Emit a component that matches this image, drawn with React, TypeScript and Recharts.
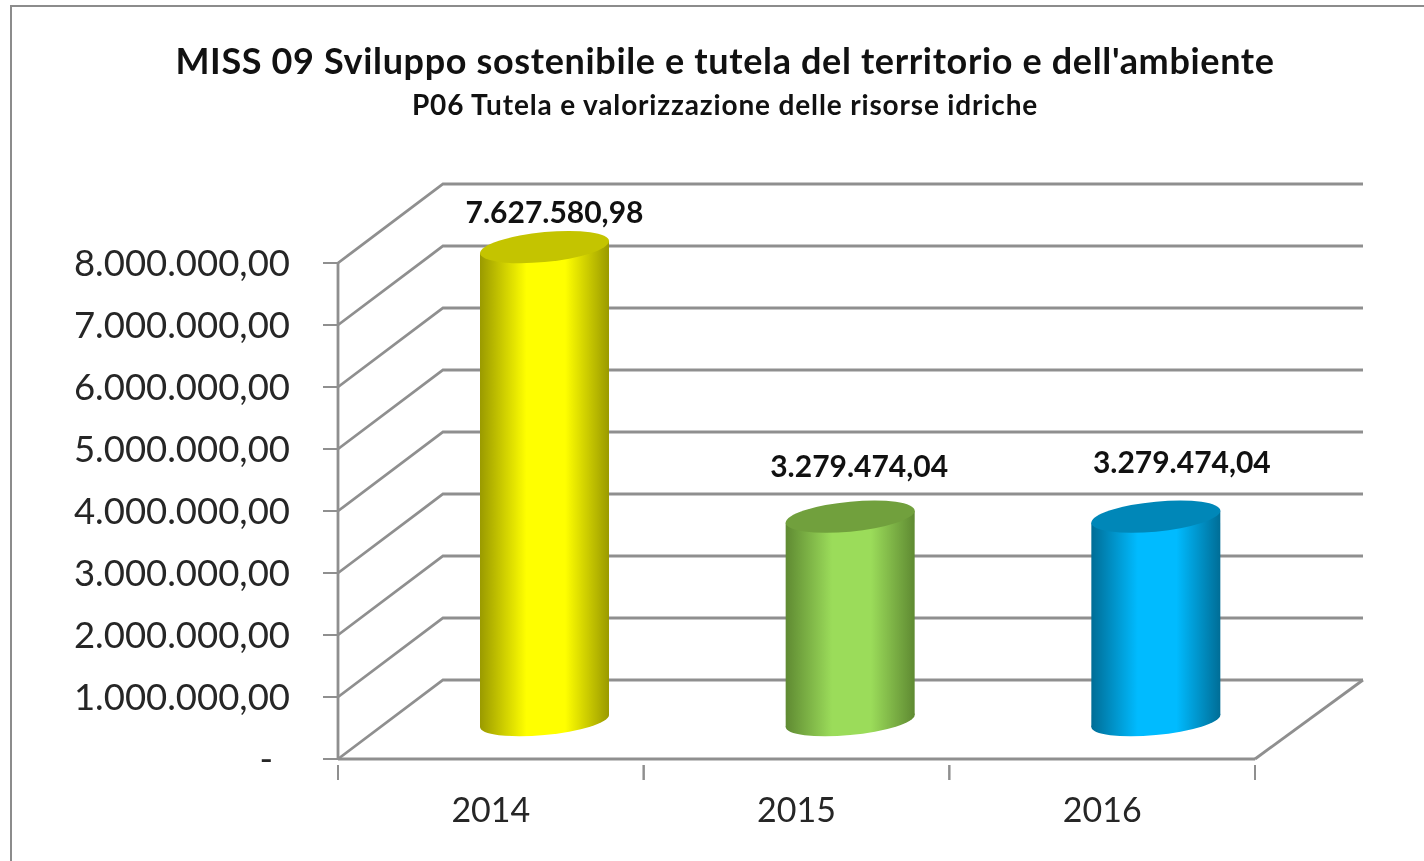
import React from 'react';
import { Bar, BarChart, CartesianGrid, LabelList, XAxis, YAxis } from 'recharts';

const years = ['2014', '2015', '2016'];
const amounts = [7627580.98, 3279474.04, 3279474.04];
const yTicks = [0, 1000000, 2000000, 3000000, 4000000, 5000000, 6000000, 7000000, 8000000];
const titleText = "MISS 09 Sviluppo sostenibile e tutela del territorio e dell'ambiente";
const subtitleText = 'P06 Tutela e valorizzazione delle risorse idriche';

const data = years.map((year, i) => ({ year, amount: amounts[i] }));

// colours for each cylinder: [body, cap, edge]
const barColors = [
  ['#ffff00', '#c4c400', '#9a9a00'],
  ['#9bdc5a', '#71a03d', '#5f8a32'],
  ['#00bbff', '#0087b8', '#006d96'],
];

const FONT = 'Lato, sans-serif';
const GRID = '#8f8f8f';

// fake 3D depth
const DEPTH_X = 105;
const DEPTH_Y = 79;
const PLOT_BOTTOM = 759;
const BAR_SHIFT_X = 54;
const BAR_SHIFT_Y = 39;

// hand placed data labels, relative to the cylinder top
const labelNudgeX = [10, 9, 26];
const labelNudgeY = [-34, -50, -54];

const formatAmount = (v: number) =>
  v.toLocaleString('it-IT', { minimumFractionDigits: 2, maximumFractionDigits: 2, useGrouping: 'always' } as any);

const WallLine = (props: any) => {
  const { x1, x2, y1 } = props;
  const backY = y1 - DEPTH_Y;
  return (
    <g fill="none" stroke={GRID} strokeWidth={2.8}>
      <polyline points={`${x1},${y1} ${x1 + DEPTH_X},${backY} ${x2 + DEPTH_X + 3},${backY}`} />
      {y1 === PLOT_BOTTOM && <line x1={x2} y1={y1} x2={x2 + DEPTH_X + 3} y2={backY} />}
    </g>
  );
};

const YearTick = ({ x, y, payload }: any) => {
  const half = payload.offset;
  return (
    <g>
      <line x1={x - half} y1={y - 2} x2={x - half} y2={y + 13} stroke={GRID} strokeWidth={2} />
      <line x1={x + half} y1={y - 2} x2={x + half} y2={y + 13} stroke={GRID} strokeWidth={2} />
      <text x={x} y={y + 55} textAnchor="middle" fontFamily={FONT} fontSize={34} fill="#262626">
        {payload.value}
      </text>
    </g>
  );
};

const AmountTick = ({ x, y, payload }: any) => (
  <g>
    <line x1={x - 7} y1={y} x2={x + 8} y2={y} stroke={GRID} strokeWidth={2} />
    <text
      x={payload.value === 0 ? x - 57 : x - 40}
      y={y + 13}
      textAnchor="end"
      fontFamily={FONT}
      fontSize={36.5}
      fill="#262626"
    >
      {payload.value === 0 ? '-' : formatAmount(payload.value)}
    </text>
  </g>
);

const Cylinder = ({ x, y, width, height, index }: any) => {
  const left = x + BAR_SHIFT_X;
  const right = left + width;
  const cx = left + width / 2;
  const top = y - BAR_SHIFT_Y;
  const bottom = y + height - 38;
  const rx = width / 2;
  const tilt = 6;
  const ry = 15;
  const fill = `url(#cyl${index})`;
  const [, cap] = barColors[index];
  return (
    <g>
      <circle r={1} transform={`matrix(${rx} ${-tilt} 0 ${ry - 1} ${cx} ${bottom})`} fill={fill} />
      <polygon
        points={`${left},${top + tilt} ${right},${top - tilt} ${right},${bottom - tilt} ${left},${bottom + tilt}`}
        fill={fill}
      />
      <circle r={1} transform={`matrix(${rx} ${-tilt} 0 ${ry} ${cx} ${top})`} fill={cap} />
    </g>
  );
};

const BarLabel = ({ x, y, width, value, index }: any) => (
  <text
    x={x + BAR_SHIFT_X + width / 2 + labelNudgeX[index]}
    y={y - BAR_SHIFT_Y + labelNudgeY[index] + 10}
    textAnchor="middle"
    fontFamily={FONT}
    fontWeight={700}
    fontSize={30}
    fill="#111"
  >
    {formatAmount(value)}
  </text>
);

export default function App() {
  return (
    <div style={{ position: 'absolute', left: 0, top: 0, width: 1424, height: 861, background: '#fff', overflow: 'hidden' }}>
      <div
        style={{
          position: 'absolute',
          left: 10,
          top: 5,
          right: 0,
          bottom: 0,
          borderTop: '2px solid #8c8c8c',
          borderLeft: '2px solid #8c8c8c',
        }}
      />
      <div style={{ position: 'absolute', left: 0, top: 0, filter: 'blur(0.5px)' }}>
        <BarChart
          width={1424}
          height={861}
          data={data}
          barSize={129}
          margin={{ top: 263, right: 169, bottom: 0, left: 0 }}
        >
          <defs>
            {barColors.map(([body, , edge], i) => (
              <linearGradient key={i} id={`cyl${i}`} x1="0" y1="0" x2="1" y2="0">
                <stop offset="0" stopColor={edge} />
                <stop offset="0.36" stopColor={body} />
                <stop offset="0.66" stopColor={body} />
                <stop offset="1" stopColor={edge} />
              </linearGradient>
            ))}
          </defs>
          <text
            x={725}
            y={74}
            textAnchor="middle"
            fontFamily={FONT}
            fontWeight={700}
            fontSize={36}
            letterSpacing={0.65}
            fill="#111"
          >
            {titleText}
          </text>
          <text
            x={725}
            y={115}
            textAnchor="middle"
            fontFamily={FONT}
            fontWeight={700}
            fontSize={28}
            letterSpacing={0.85}
            fill="#111"
          >
            {subtitleText}
          </text>
          <CartesianGrid vertical={false} horizontal={<WallLine />} />
          <XAxis
            dataKey="year"
            height={102}
            axisLine={{ stroke: GRID, strokeWidth: 2.8 }}
            tickLine={false}
            tick={<YearTick />}
          />
          <YAxis
            width={338}
            domain={[0, 8000000]}
            ticks={yTicks}
            interval={0}
            axisLine={{ stroke: GRID, strokeWidth: 2.8 }}
            tickLine={false}
            tick={<AmountTick />}
          />
          <Bar dataKey="amount" isAnimationActive={false} shape={<Cylinder />}>
            <LabelList dataKey="amount" content={<BarLabel />} />
          </Bar>
        </BarChart>
      </div>
    </div>
  );
}
